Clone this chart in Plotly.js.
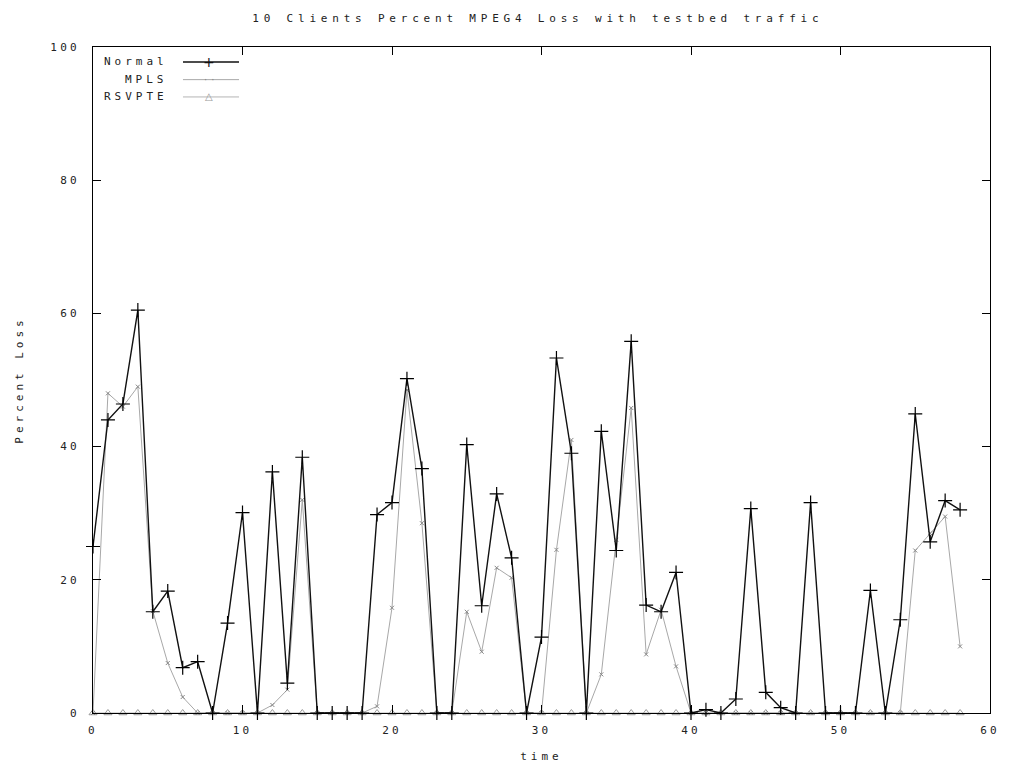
<!DOCTYPE html>
<html>
<head>
<meta charset="utf-8">
<script src="https://cdn.plot.ly/plotly-3.0.1.min.js"></script>
<style>
html,body{margin:0;padding:0;background:#fff;}
#chart{width:1011px;height:765px;}
.gtitle{letter-spacing:4.8px;}
.xtick text,.ytick text{letter-spacing:3.2px;}
.g-xtitle text,.g-ytitle text{letter-spacing:4px;}
.annotation-text{letter-spacing:4px;}
</style>
</head>
<body>
<div id="chart"></div>
<script>
// ---- data ----
const time = [0,1,2,3,4,5,6,7,8,9,10,11,12,13,14,15,16,17,18,19,20,21,22,23,24,25,26,27,28,29,
              30,31,32,33,34,35,36,37,38,39,40,41,42,43,44,45,46,47,48,49,50,51,52,53,54,55,56,57,58];
const normal = [25,44,46.4,60.5,15.2,18.3,6.8,7.7,0,13.5,30.1,0,36.2,4.5,38.4,0,0,0,0,29.8,
                31.6,50.2,36.7,0,0,40.3,16.1,32.9,23.3,0,11.4,53.3,39.0,0,42.3,24.4,55.8,16.2,15.2,21.1,
                0,0.5,0,2.1,30.7,3.1,0.8,0,31.6,0,0,0,18.4,0,14.0,44.9,25.7,31.9,30.5];
const mpls = [0,48,46,49,15.3,7.5,2.4,0,0,0,0,0,1.2,3.5,32,0,0,0,0,1,
              15.8,48.5,28.5,0,0,15.2,9.2,21.8,20.3,0,0,24.5,41,0,5.8,26,45.8,8.8,15.5,7,
              0,0,0,0,0,0,0,0,0,0,0,0,0,0,0,24.4,27,29.5,10];
const rsvpte = [0,0,0,0,0,0,0,0,0,0,0,0,0,0,0,0,0,0,0,0,0,0,0,0,0,0,0,0,0,0,
                0,0,0,0,0,0,0,0,0,0,0,0,0,0,0,0,0,0,0,0,0,0,0,0,0,0,0,0,0];
const seriesNames = ['Normal','MPLS','RSVPTE'];
const titleText = '10 Clients Percent MPEG4 Loss with testbed traffic';
const xTitle = 'time';
const yTitle = 'Percent Loss';
const xTicks = [0,10,20,30,40,50,60];
const yTicks = [0,20,40,60,80,100];

const FONT = 'DejaVu Sans Mono, monospace';

const traces = [
  {x: time, y: rsvpte, name: seriesNames[2], mode: 'lines+markers', cliponaxis: false,
   line: {color: '#b4b4b4', width: 1},
   marker: {symbol: 'triangle-up-open', size: 7, color: '#9a9a9a', line: {width: 1, color: '#9a9a9a'}}},
  {x: time, y: mpls, name: seriesNames[1], mode: 'lines+markers', cliponaxis: false,
   line: {color: '#a8a8a8', width: 1},
   marker: {symbol: 'x-thin-open', size: 4, color: '#888', line: {width: 1, color: '#888'}}},
  {x: time, y: normal, name: seriesNames[0], mode: 'lines+markers', cliponaxis: false,
   line: {color: '#111', width: 1.4},
   marker: {symbol: 'cross-thin-open', size: 10, color: '#000', line: {width: 1.2, color: '#000'}}}
];

// legend drawn gnuplot-style: text, then sample line with marker
const legY = [0.9775, 0.951, 0.925];
const legSym = ['+', '··', '△'];
const legCol = ['#111', '#888', '#999'];
const legLineCol = ['#111', '#a8a8a8', '#b4b4b4'];
const legLineW = [1.4, 1, 1];
const annotations = [];
const shapes = [];
for (let i = 0; i < 3; i++) {
  annotations.push({xref: 'paper', yref: 'paper', x: 0.0856, y: legY[i], xanchor: 'right', yanchor: 'middle',
    text: seriesNames[i], showarrow: false, font: {family: FONT, size: 11, color: '#222'}});
  shapes.push({type: 'line', xref: 'paper', yref: 'paper', x0: 0.1003, x1: 0.1628, y0: legY[i], y1: legY[i],
    line: {color: legLineCol[i], width: legLineW[i]}});
  annotations.push({xref: 'paper', yref: 'paper', x: 0.1315, y: legY[i], xanchor: 'center', yanchor: 'middle',
    text: legSym[i], showarrow: false, font: {family: 'DejaVu Sans', size: i === 0 ? 14 : 10, color: legCol[i]}});
}

const axisCommon = {
  showgrid: false, zeroline: false, showline: true, linecolor: '#000', linewidth: 1,
  mirror: 'ticks', ticks: 'inside', ticklen: 8, tickwidth: 1, tickcolor: '#000',
  tickfont: {family: FONT, size: 11, color: '#222'}, fixedrange: true
};

const layout = {
  width: 1011, height: 765,
  margin: {l: 93, r: 21, t: 47, b: 52},
  paper_bgcolor: '#fff', plot_bgcolor: '#fff',
  showlegend: false,
  title: {text: titleText, font: {family: FONT, size: 11, color: '#222'},
          x: 0.532, xanchor: 'center', yref: 'container', y: 0.976, yanchor: 'middle'},
  xaxis: Object.assign({}, axisCommon, {range: [0, 60], tickvals: xTicks, ticktext: xTicks.map(String),
          ticklabelstandoff: 7,
          title: {text: xTitle, font: {family: FONT, size: 11, color: '#222'}, standoff: 16}}),
  yaxis: Object.assign({}, axisCommon, {range: [0, 100], tickvals: yTicks, ticktext: yTicks.map(String),
          ticklabelstandoff: 10,
          title: {text: yTitle, font: {family: FONT, size: 11, color: '#222'}, standoff: 24}}),
  annotations: annotations,
  shapes: shapes
};

Plotly.newPlot('chart', traces, layout, {staticPlot: true, displayModeBar: false});
</script>
</body>
</html>
